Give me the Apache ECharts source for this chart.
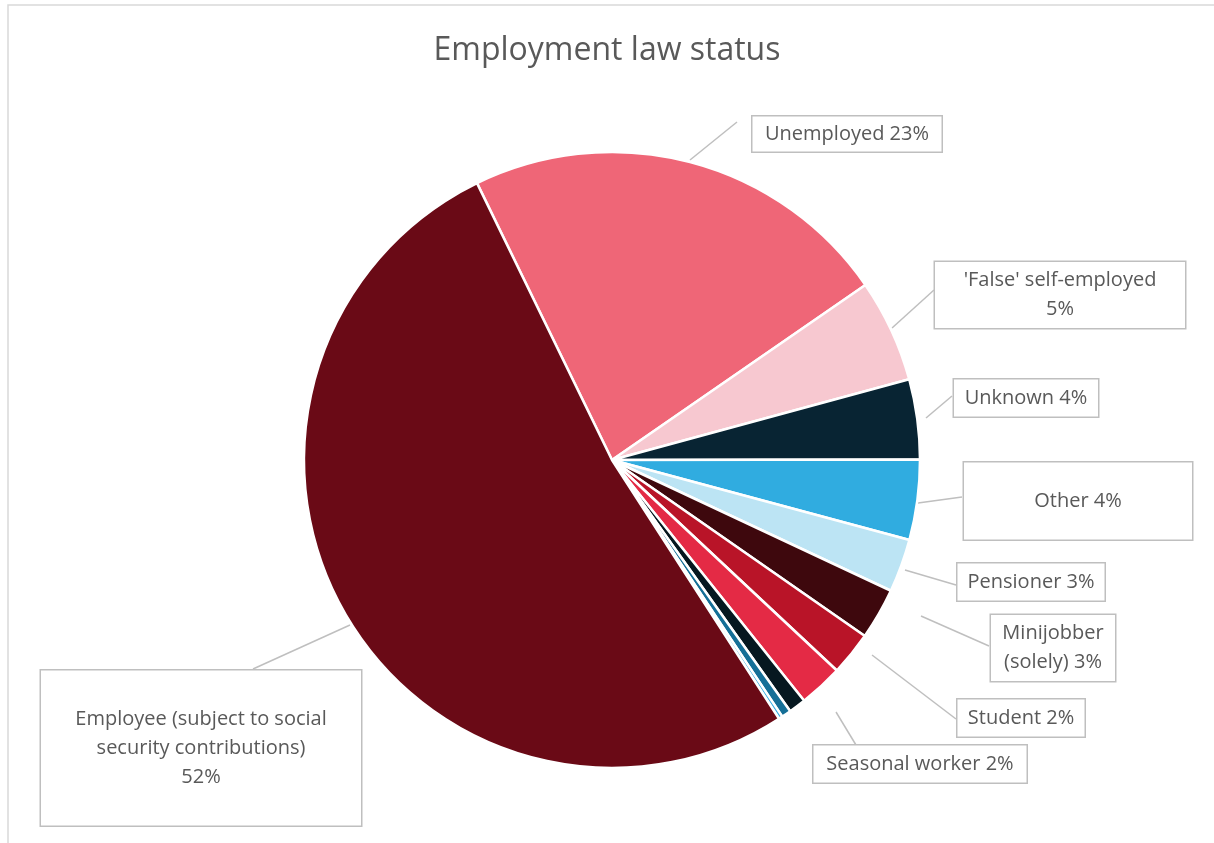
<!DOCTYPE html>
<html>
<head>
<meta charset="utf-8">
<script src="https://cdn.jsdelivr.net/npm/echarts@6/dist/echarts.min.js"></script>
<style>
  html, body { margin: 0; padding: 0; background: #fff; }
  #chart { width: 1214px; height: 843px; }
</style>
</head>
<body>
<div id="chart"></div>
<script>
// categories, clockwise from the top-left edge of "Unemployed"
const categories = [
  'Unemployed',
  "'False' self-employed",
  'Unknown',
  'Other',
  'Pensioner',
  'Minijobber\n(solely)',
  'Student',
  'Seasonal worker',
  'Unlabelled 1',
  'Unlabelled 2',
  'Unlabelled 3',
  'Employee (subject to social\nsecurity contributions)'
]
// share in percent
const shares = [22.6, 5.4, 4.2, 4.2, 2.8, 2.7, 2.3, 2.3, 0.9, 0.5, 0.2, 51.9]
const colors = ['#EF6677', '#F7C8D0', '#082433', '#30ACE0', '#BCE4F4', '#3E080D',
  '#B91428', '#E42A45', '#061820', '#156F97', '#3AB0E5', '#6A0A16']
// which slices carry a label
const labelled = [true, true, true, true, true, true, true, true, false, false, false, true]
// two-line labels keep the value on its own line
const valueOnNewLine = [false, true, false, false, false, false, false, false, false, false, false, true]

// label box centres and sizes (x, y, width, vertical padding)
const labelBoxes = [
  [847, 134, 189, 3],
  [1060, 295, 250, 4],
  [1026, 398, 144, 4],
  [1078, 501, 228, 24],
  [1031, 582, 147, 4],
  [1053, 648, 124, 4],
  [1021, 718, 127, 4],
  [920, 764, 213, 4],
  null, null, null,
  [201, 748, 320, 34]
]
// leader lines: start and end point of each
const leaderLines = [
  [[690, 160], [737, 122]],
  [[892, 328], [934, 290]],
  [[926, 418], [952, 396]],
  [[918, 503], [962, 497]],
  [[905, 570], [956, 585]],
  [[921, 616], [989, 646]],
  [[872, 655], [956, 719]],
  [[836, 712], [856, 745]],
  null, null, null,
  [[350, 625], [253, 669]]
]

const chart = echarts.init(document.getElementById('chart'))

const pieData = categories.map((name, i) => {
  const item = { name: name, value: shares[i], itemStyle: { color: colors[i] } }
  if (!labelled[i]) {
    item.label = { show: false }
    item.labelLine = { show: false }
  } else {
    const b = labelBoxes[i]
    item.label = { width: b[2], padding: [b[3], 0, b[3], 0] }
  }
  return item
})

const option = {
  animation: false,
  backgroundColor: '#fff',
  title: {
    text: 'Employment law status',
    left: 'center',
    top: 30,
    textStyle: {
      fontFamily: 'Open Sans',
      fontSize: 32,
      fontWeight: 'normal',
      color: '#595959'
    }
  },
  graphic: [{
    type: 'rect',
    shape: { x: 8, y: 5, width: 1400, height: 1000 },
    style: { fill: 'none', stroke: '#d9d9d9', lineWidth: 1.5 },
    silent: true
  }],
  series: [{
    type: 'pie',
    center: [612, 460],
    radius: 308,
    startAngle: 116,
    clockwise: true,
    avoidLabelOverlap: false,
    emphasis: { disabled: true },
    itemStyle: { borderColor: '#fff', borderWidth: 2.5 },
    label: {
      show: true,
      position: 'outside',
      fontFamily: 'Open Sans',
      fontSize: 20,
      lineHeight: 29,
      color: '#595959',
      align: 'center',
      backgroundColor: '#fff',
      borderColor: '#bfbfbf',
      borderWidth: 1.5,
      formatter: function (p) {
        const sep = valueOnNewLine[p.dataIndex] ? '\n' : ' '
        return p.name + sep + Math.round(p.value) + '%'
      }
    },
    labelLine: {
      show: true,
      length: 20,
      length2: 10,
      lineStyle: { color: '#bfbfbf', width: 1.5 }
    },
    labelLayout: function (params) {
      const i = params.dataIndex
      const b = labelBoxes[i]
      if (!b) return {}
      const l = leaderLines[i]
      const mid = [(l[0][0] + l[1][0]) / 2, (l[0][1] + l[1][1]) / 2]
      return {
        x: b[0], y: b[1], align: 'center', verticalAlign: 'middle',
        labelLinePoints: [l[0], mid, l[1]]
      }
    },
    data: pieData
  }]
}

chart.setOption(option)
</script>
</body>
</html>
